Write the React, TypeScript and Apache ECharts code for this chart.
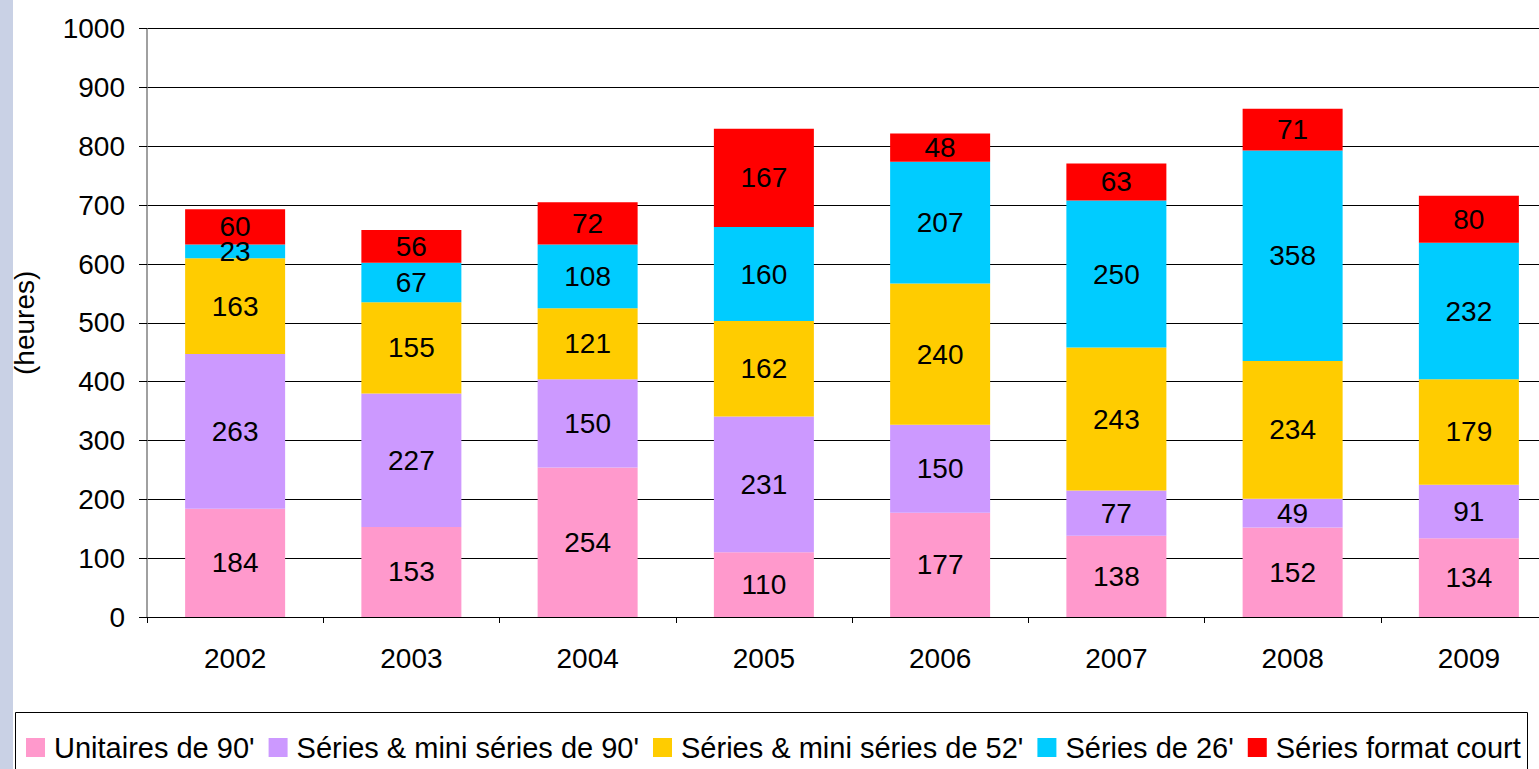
import React, { useEffect, useRef } from "react";
import * as echarts from "echarts";

const years = ["2002", "2003", "2004", "2005", "2006", "2007", "2008", "2009"];
const unitaires90 = [184, 153, 254, 110, 177, 138, 152, 134];
const series90 = [263, 227, 150, 231, 150, 77, 49, 91];
const series52 = [163, 155, 121, 162, 240, 243, 234, 179];
const series26 = [23, 67, 108, 160, 207, 250, 358, 232];
const formatCourt = [60, 56, 72, 167, 48, 63, 71, 80];

const seriesNames = [
  "Unitaires de 90'",
  "Séries & mini séries de 90'",
  "Séries & mini séries de 52'",
  "Séries de 26'",
  "Séries format court",
];
const seriesColors = ["#FF99CC", "#CC99FF", "#FFCC00", "#00CCFF", "#FF0000"];
const seriesData = [unitaires90, series90, series52, series26, formatCourt];

const FONT = "Liberation Sans, Arial, sans-serif";

export default function App() {
  const ref = useRef<HTMLDivElement>(null);
  useEffect(() => {
    if (!ref.current) return;
    const chart = echarts.init(ref.current, undefined, { renderer: "svg" });
    chart.setOption({
      animation: false,
      backgroundColor: "#ffffff",
      textStyle: { fontFamily: FONT },
      grid: {
        left: 147,
        top: 28.7,
        width: 1410,
        height: 588.3,
        containLabel: false,
        outerBoundsMode: "none",
      },
      graphic: [
        { type: "rect", shape: { x: 0, y: 0, width: 13, height: 769 }, style: { fill: "#C9D1E5" }, z: 0 },
        { type: "rect", shape: { x: 15.5, y: 712.5, width: 1512, height: 70 }, style: { fill: "none", stroke: "#000", lineWidth: 1 }, z: 0 },
      ],
      legend: {
        left: 26,
        top: 733,
        itemWidth: 19,
        itemHeight: 19,
        itemGap: 14,
        icon: "rect",
        padding: 0,
        textStyle: { fontSize: 29, color: "#000", fontFamily: FONT, padding: [0, 0, 0, 4] },
        data: seriesNames,
      },
      xAxis: {
        type: "category",
        data: years,
        axisLine: { lineStyle: { color: "#000", width: 1 } },
        axisTick: { show: true, length: 6, lineStyle: { color: "#000" } },
        axisLabel: { fontSize: 28, color: "#000", margin: 27, fontFamily: FONT },
      },
      yAxis: {
        type: "value",
        min: 0,
        max: 1000,
        interval: 100,
        name: "(heures)",
        nameLocation: "middle",
        nameRotate: 90,
        nameGap: 109,
        nameTextStyle: { fontSize: 28, color: "#000", fontFamily: FONT },
        axisLine: { show: true, lineStyle: { color: "#808080", width: 1.5 } },
        axisTick: { show: true, length: 8, lineStyle: { color: "#000" } },
        axisLabel: {
          fontSize: 28,
          color: "#000",
          margin: 22,
          fontFamily: FONT,
          formatter: (v: number) => String(v),
        },
        splitLine: { lineStyle: { color: "#000", width: 1 } },
      },
      series: seriesNames.map((name, i) => ({
        name,
        type: "bar",
        stack: "total",
        barWidth: 100,
        data: seriesData[i],
        itemStyle: { color: seriesColors[i] },
        label: {
          show: true,
          position: "inside",
          fontSize: 28,
          color: "#000",
          fontFamily: FONT,
        },
      })),
    });
    return () => chart.dispose();
  }, []);
  return (
    <div
      ref={ref}
      style={{ position: "absolute", left: 0, top: 0, width: 1539, height: 769, overflow: "hidden" }}
    />
  );
}
